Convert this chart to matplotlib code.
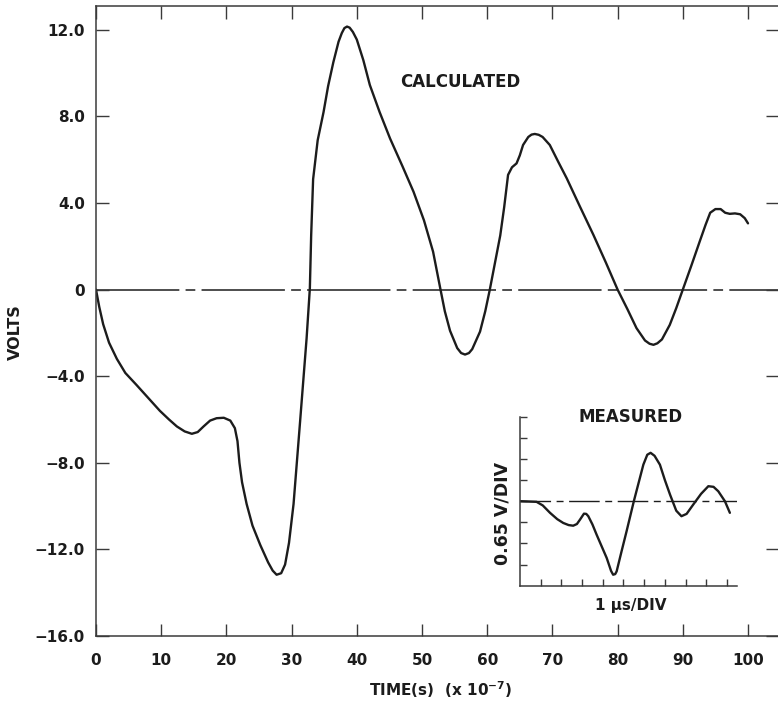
import matplotlib
matplotlib.use('Agg')
import matplotlib.pyplot as plt

# calculated waveform, time in units of 1e-7 s, volts
calc_time = [
    0, 0.5, 1.1, 2, 3.2, 4.5, 6.2, 8, 9.8, 11.2, 12.4, 13.6, 14.7, 15.6,
    16.5, 17.5, 18.5, 19.6, 20.6, 21.3, 21.7, 22.0, 22.4, 23.1, 24.0, 25.2,
    26.4, 27.1, 27.7, 28.4, 29.0, 29.6, 30.3, 31.3, 32.3, 32.8, 33.0, 33.3,
    34.0, 34.9, 35.6, 36.4, 37.2, 37.7, 38.1, 38.5, 38.9, 39.4, 40.0, 41.0,
    42.0, 43.5, 45.1, 47.0, 48.7, 50.3, 51.7, 52.8, 53.5, 54.3, 55.4, 56.0,
    56.6, 57.2, 57.7, 58.9, 59.7, 60.4, 61.2, 62.0, 62.6, 63.2, 63.8, 64.5,
    65.0, 65.5, 66.3, 66.8, 67.3, 67.9, 68.5, 69.6, 70.9, 72.2, 74.2, 76.3,
    78.2, 80.0, 81.5, 82.9, 84.2, 84.9, 85.5, 86.1, 86.8, 88.0, 89.0, 90.0,
    91.3, 92.6, 93.5, 94.2, 95.0, 95.8, 96.5, 97.2, 98.0, 98.8, 99.5, 100.0,
]
calc_volts = [
    0, -0.8, -1.6, -2.45, -3.2, -3.85, -4.4, -5.0, -5.6, -6.0, -6.32, -6.55,
    -6.66, -6.58, -6.32, -6.05, -5.94, -5.92, -6.05, -6.4, -7.0, -8.0, -8.9,
    -9.9, -10.9, -11.8, -12.6, -12.98, -13.17, -13.1, -12.7, -11.7, -9.9,
    -6.1, -2.25, 0.06, 2.5, 5.1, 6.9, 8.2, 9.4, 10.5, 11.45, 11.85, 12.08,
    12.15, 12.1, 11.9, 11.55, 10.6, 9.45, 8.2, 6.98, 5.7, 4.52, 3.2, 1.75,
    0.06, -1.0, -1.9, -2.7, -2.93, -3.0, -2.93, -2.75, -1.94, -1.0, 0.0,
    1.25, 2.5, 3.8, 5.3, 5.65, 5.83, 6.2, 6.68, 7.05, 7.16, 7.19, 7.15, 7.05,
    6.68, 5.9, 5.14, 3.85, 2.52, 1.25, 0.0, -0.9, -1.78, -2.35, -2.5, -2.55,
    -2.48, -2.3, -1.63, -0.85, 0.0, 1.1, 2.23, 3.0, 3.55, 3.72, 3.72, 3.55,
    3.5, 3.52, 3.48, 3.3, 3.06,
]

# measured trace, in scope divisions
meas_x = [
    0, 0.8, 1.1, 1.45, 1.8, 2.09, 2.35, 2.57, 2.75, 2.9, 3.09, 3.2, 3.3,
    3.5, 3.7, 4.19, 4.4, 4.5, 4.6, 4.67, 4.9, 5.15, 5.5, 5.96, 6.15, 6.31,
    6.5, 6.76, 7.0, 7.25, 7.55, 7.8, 8.05, 8.37, 8.75, 9.1, 9.35, 9.58,
    9.9, 10.14,
]
meas_y = [
    0, -0.03, -0.2, -0.55, -0.85, -1.03, -1.13, -1.16, -1.08, -0.87, -0.59,
    -0.6, -0.71, -1.1, -1.58, -2.69, -3.3, -3.48, -3.45, -3.32, -2.4, -1.42,
    0, 1.73, 2.2, 2.29, 2.15, 1.73, 1.0, 0.31, -0.45, -0.71, -0.6, -0.16,
    0.35, 0.71, 0.68, 0.47, 0.0, -0.55,
]

xticks = [0, 10, 20, 30, 40, 50, 60, 70, 80, 90, 100]
yticks = [-16, -12, -8, -4, 0, 4, 8, 12]
ytick_labels = ['\u221216.0', '\u221212.0', '\u22128.0', '\u22124.0',
                '0', '4.0', '8.0', '12.0']

INK = '#1c1c1c'
AXIS = '#3a3a3a'
W, H = 778, 701


def dashdot(lw, pattern=(60, 4.5, 7, 4.5)):
    """Long-dash / short-dash pattern, in points, scaled for linewidth."""
    return [p / lw for p in pattern]


def main_axes(fig):
    ax = fig.add_axes([96 / W, (H - 636) / H, 1 - 96 / W, (636 - 6) / H])
    ax.set_xlim(0, 104.6)
    ax.set_ylim(-16, 13.1)
    ax.axhline(0, color=INK, lw=1.1, dashes=dashdot(1.1), zorder=1)
    ax.plot(calc_time, calc_volts, color=INK, lw=1.7, zorder=2,
            solid_joinstyle='round', solid_capstyle='round')
    ax.set_xticks(xticks)
    ax.set_xticklabels([str(t) for t in xticks])
    ax.set_yticks(yticks)
    ax.set_yticklabels(ytick_labels)
    ax.tick_params(axis='both', direction='in', length=9, width=1.0,
                   color=AXIS, top=True, right=True, labelsize=11)
    ax.tick_params(axis='x', pad=12)
    ax.tick_params(axis='y', pad=8)
    for lab in ax.get_xticklabels() + ax.get_yticklabels():
        lab.set_fontweight('bold')
        lab.set_color(INK)
    for side in ('left', 'bottom', 'top'):
        ax.spines[side].set_color(AXIS)
        ax.spines[side].set_linewidth(1.1)
    ax.spines['right'].set_visible(False)
    ax.text(55.8, 9.6, 'CALCULATED', ha='center', va='center',
            fontsize=12, fontweight='bold', color=INK)
    return ax


def inset_axes(fig):
    ax = fig.add_axes([520 / W, (H - 585.7) / H, 216.7 / W, 169 / H])
    ax.patch.set_alpha(0)
    ax.set_xlim(0, 10.47)
    ax.set_ylim(-4, 4)
    ax.axhline(0, color=INK, lw=1.0, dashes=dashdot(1.0, (22, 4, 5, 4)),
               zorder=1)
    ax.plot(meas_x, meas_y, color=INK, lw=1.7, zorder=2,
            solid_joinstyle='round', solid_capstyle='round')
    ax.set_xticks(range(1, 11))
    ax.set_yticks(range(-3, 5))
    ax.tick_params(axis='both', direction='in', length=5, width=1.0,
                   color=AXIS, labelbottom=False, labelleft=False)
    for side in ('top', 'right'):
        ax.spines[side].set_visible(False)
    for side in ('left', 'bottom'):
        ax.spines[side].set_color(AXIS)
        ax.spines[side].set_linewidth(1.1)
    ax.text(0.512, 1.0, 'MEASURED', transform=ax.transAxes, ha='center',
            va='center', fontsize=12, fontweight='bold', color=INK)
    ax.text(-0.083, 0.43, '0.65 V/DIV', transform=ax.transAxes,
            ha='center', va='center', rotation=90, fontsize=12.5,
            fontweight='bold', color=INK)
    ax.text(0.51, -0.12, '1 \u03bcs/DIV', transform=ax.transAxes,
            ha='center', va='center', fontsize=11, fontweight='bold',
            color=INK)
    return ax


def main():
    """Calculated vs. measured voltage waveform."""
    plt.rcParams['font.family'] = ['DejaVu Sans']
    plt.rcParams['mathtext.fontset'] = 'custom'
    plt.rcParams['mathtext.rm'] = 'DejaVu Sans:bold'
    plt.rcParams['mathtext.bf'] = 'DejaVu Sans:bold'
    fig = plt.figure(figsize=(W / 100, H / 100), dpi=100)
    main_axes(fig)
    inset_axes(fig)
    fig.text(15 / W, 1 - 332 / H, 'VOLTS', rotation=90, ha='center',
             va='center', fontsize=11.5, fontweight='bold', color=INK)
    fig.text(441 / W, 1 - 690 / H, r'TIME(s)  (x 10$^{\mathbf{-7}}$)',
             ha='center', va='center', fontsize=11, fontweight='bold',
             color=INK)
    fig.savefig('out.png', dpi=100)
    plt.close(fig)


if __name__ == '__main__':
    main()
